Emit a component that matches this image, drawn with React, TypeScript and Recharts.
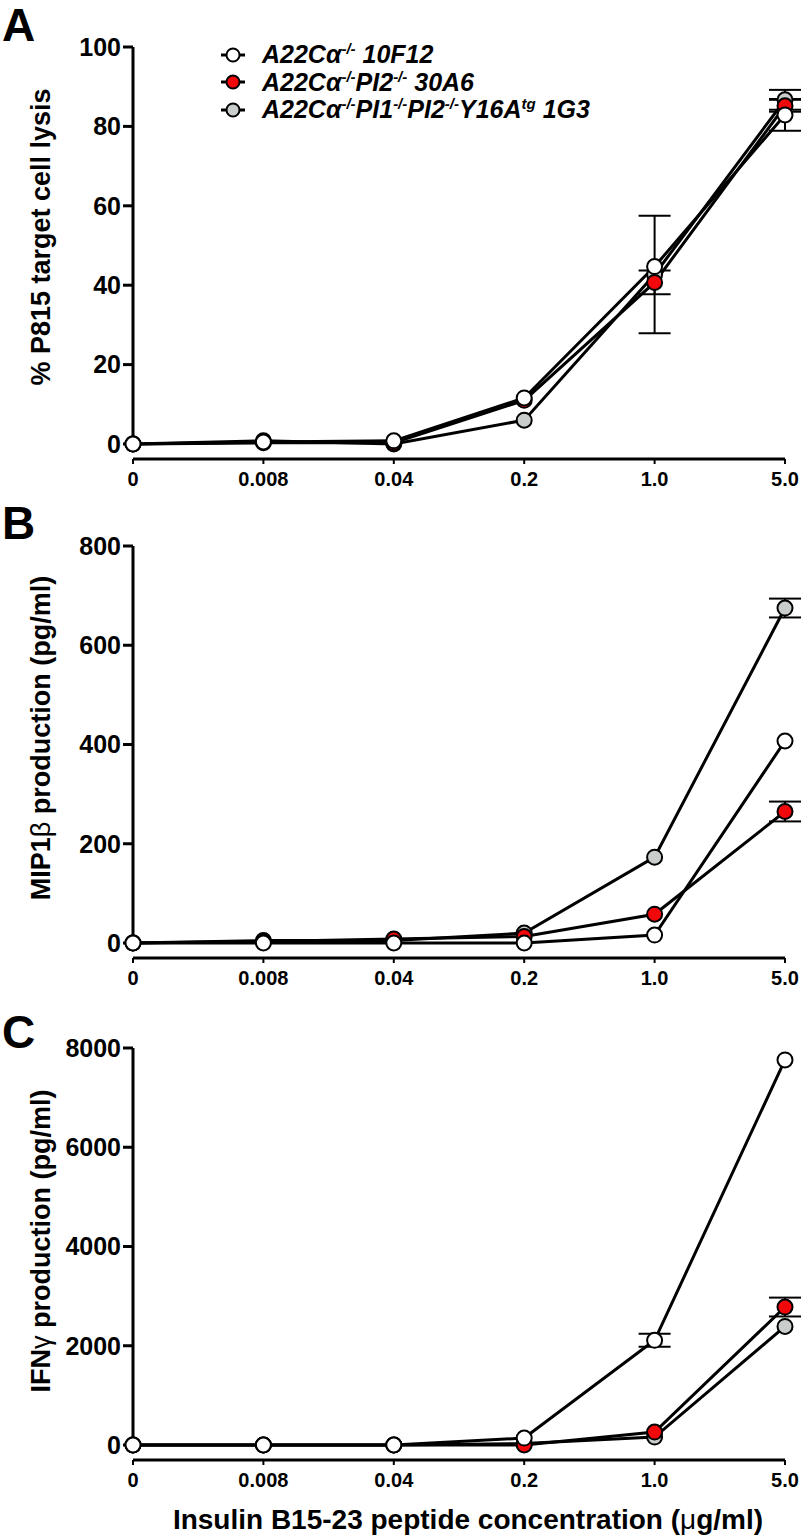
import React from "react"
import { ErrorBar, Line, LineChart, ReferenceLine, XAxis, YAxis } from "recharts"

const FONT = "'Liberation Sans', Arial, Helvetica, sans-serif"

// x categories (peptide dose, µg/ml) — plotted at evenly spaced index positions
const doseLabels = ["0", "0.008", "0.04", "0.2", "1.0", "5.0"]
const doseIndex = [0, 1, 2, 3, 4, 5]

// A: % P815 target cell lysis
const lysisWhite = [0, 0.5, 0.8, 11.6, 44.7, 82.9]
const lysisWhiteErr = [null, null, null, null, null, 4]
const lysisRed = [0, 0.3, 0.3, 11, 40.7, 85.2]
const lysisRedErr = [null, null, null, null, 3, 1.5]
const lysisGray = [0, 0.8, 0, 6, 42.7, 86.7]
const lysisGrayErr = [null, null, null, null, 14.8, 2.5]

// B: MIP1β production (pg/ml)
const mipWhite = [0, 0, 0, 0, 16, 407]
const mipWhiteErr = [null, null, null, null, null, null]
const mipRed = [0, 3, 8, 13, 58, 265]
const mipRedErr = [null, null, null, null, null, 20]
const mipGray = [0, 5, 5, 20, 173, 675]
const mipGrayErr = [null, null, null, null, null, 19]

// C: IFNγ production (pg/ml)
const ifnWhite = [0, 0, 0, 140, 2110, 7760]
const ifnWhiteErr = [null, null, null, null, 130, null]
const ifnRed = [0, 0, 0, 0, 260, 2780]
const ifnRedErr = [null, null, null, null, null, 190]
const ifnGray = [0, 0, 0, 30, 160, 2390]
const ifnGrayErr = [null, null, null, null, null, null]

const lysisTicks = [0, 20, 40, 60, 80, 100]
const mipTicks = [0, 200, 400, 600, 800]
const ifnTicks = [0, 2000, 4000, 6000, 8000]

const WHITE = "#ffffff"
const RED = "#f2070b"
const GRAY = "#c9cecc"

type Num = number | null

function buildRows(w: Num[], we: Num[], r: Num[], re: Num[], g: Num[], ge: Num[]) {
  return doseIndex.map((x, i) => ({
    x,
    white: w[i],
    whiteErr: we[i],
    red: r[i],
    redErr: re[i],
    gray: g[i],
    grayErr: ge[i],
  }))
}

const CHART_W = 812
const CHART_H = 500
const PLOT_TOP = 47
const ZERO_SPAN = 397 // px from max tick down to 0
const AXIS_GAP = 15 // offset of x axis below the 0 level

function Panel({
  top,
  rows,
  ticks,
}: {
  top: number
  rows: ReturnType<typeof buildRows>
  ticks: number[]
}) {
  const yMax = ticks[ticks.length - 1]
  const yMin = -(yMax * AXIS_GAP) / ZERO_SPAN

  const series: [string, string][] = [
    ["gray", GRAY],
    ["red", RED],
    ["white", WHITE],
  ]

  return (
    <div style={{ position: "absolute", left: 0, top }}>
      <LineChart
        width={CHART_W}
        height={CHART_H}
        data={rows}
        margin={{ top: PLOT_TOP, right: 27, left: 53, bottom: 11 }}
      >
        <XAxis
          dataKey="x"
          type="number"
          domain={[0, 5]}
          ticks={doseIndex}
          interval={0}
          tickFormatter={(v: number) => doseLabels[v]}
          axisLine={{ stroke: "#000", strokeWidth: 3 }}
          tickLine={{ stroke: "#000", strokeWidth: 2 }}
          tickSize={5}
          tickMargin={8}
          height={30}
          tick={{ fill: "#000", fontSize: 20, fontWeight: 700, fontFamily: FONT }}
        />
        <YAxis
          type="number"
          domain={[yMin, yMax]}
          ticks={ticks}
          interval={0}
          width={80}
          axisLine={false}
          tickLine={{ stroke: "#000", strokeWidth: 3 }}
          tickSize={10}
          tickMargin={2}
          tick={{ fill: "#000", fontSize: 25, fontWeight: 700, fontFamily: FONT }}
        />
        <ReferenceLine
          segment={[
            { x: 0, y: 0 },
            { x: 0, y: yMax },
          ]}
          stroke="#000"
          strokeWidth={3}
        />
        {series.map(([key, fill]) => (
          <Line
            key={key}
            dataKey={key}
            stroke="#000"
            strokeWidth={3}
            dot={{ r: 7.5, fill, stroke: "#000", strokeWidth: 2, fillOpacity: 1 }}
            activeDot={false}
            isAnimationActive={false}
          >
            <ErrorBar dataKey={`${key}Err`} width={16} strokeWidth={2} stroke="#000" direction="y" />
          </Line>
        ))}
      </LineChart>
    </div>
  )
}

function PanelLetter({ letter, top }: { letter: string; top: number }) {
  return (
    <div
      style={{
        position: "absolute",
        left: 2,
        top,
        fontFamily: FONT,
        fontWeight: 700,
        fontSize: 46,
        lineHeight: 1,
      }}
    >
      {letter}
    </div>
  )
}

function YTitle({ cy, children }: { cy: number; children: React.ReactNode }) {
  return (
    <div
      style={{
        position: "absolute",
        left: 41,
        top: cy,
        transform: "translate(-50%, -50%) rotate(-90deg)",
        fontFamily: FONT,
        fontWeight: 700,
        fontSize: 27,
        lineHeight: 1,
        whiteSpace: "nowrap",
      }}
    >
      {children}
    </div>
  )
}

const legendItems: [React.ReactNode, string][] = [
  [
    <>
      A22Cα<sup>-/-</sup> 10F12
    </>,
    WHITE,
  ],
  [
    <>
      A22Cα<sup>-/-</sup>PI2<sup>-/-</sup> 30A6
    </>,
    RED,
  ],
  [
    <>
      A22Cα<sup>-/-</sup>PI1<sup>-/-</sup>PI2<sup>-/-</sup>Y16A<sup>tg</sup> 1G3
    </>,
    GRAY,
  ],
]

function Legend() {
  return (
    <div style={{ position: "absolute", left: 220, top: 41 }}>
      {legendItems.map(([label, fill], i) => (
        <div
          key={i}
          style={{
            display: "flex",
            alignItems: "center",
            height: 27.5,
            fontFamily: FONT,
            fontWeight: 700,
            fontStyle: "italic",
            fontSize: 25,
            lineHeight: 1,
            whiteSpace: "nowrap",
          }}
        >
          <svg width={26} height={20} style={{ marginRight: 16 }}>
            <line x1={1} y1={10} x2={25} y2={10} stroke="#000" strokeWidth={3} />
            <circle cx={13} cy={10} r={6.5} fill={fill} stroke="#000" strokeWidth={2} />
          </svg>
          <span style={{ position: "relative" }}>{label}</span>
        </div>
      ))}
    </div>
  )
}

export default function App() {
  const lysisRows = buildRows(lysisWhite, lysisWhiteErr, lysisRed, lysisRedErr, lysisGray, lysisGrayErr)
  const mipRows = buildRows(mipWhite, mipWhiteErr, mipRed, mipRedErr, mipGray, mipGrayErr)
  const ifnRows = buildRows(ifnWhite, ifnWhiteErr, ifnRed, ifnRedErr, ifnGray, ifnGrayErr)

  return (
    <div style={{ position: "relative", width: 812, height: 1537, background: "#fff", overflow: "hidden" }}>
      <style>{`body{margin:0} sup{font-size:0.6em;vertical-align:0.6em;line-height:0}`}</style>

      <Panel top={0} rows={lysisRows} ticks={lysisTicks} />
      <Panel top={499} rows={mipRows} ticks={mipTicks} />
      <Panel top={1001} rows={ifnRows} ticks={ifnTicks} />

      <PanelLetter letter="A" top={2} />
      <PanelLetter letter="B" top={500} />
      <PanelLetter letter="C" top={1009} />

      <YTitle cy={237}>% P815 target cell lysis</YTitle>
      <YTitle cy={738}>
        MIP1<span style={{ fontWeight: 400 }}>β</span> production (pg/ml)
      </YTitle>
      <YTitle cy={1241}>
        IFN<span style={{ fontWeight: 400 }}>γ</span> production (pg/ml)
      </YTitle>

      <Legend />

      <div
        style={{
          position: "absolute",
          left: 468,
          top: 1520,
          transform: "translate(-50%, -50%)",
          fontFamily: FONT,
          fontWeight: 700,
          fontSize: 28,
          lineHeight: 1,
          whiteSpace: "nowrap",
        }}
      >
        Insulin B15-23 peptide concentration (<span style={{ fontWeight: 400 }}>μ</span>g/ml)
      </div>
    </div>
  )
}
